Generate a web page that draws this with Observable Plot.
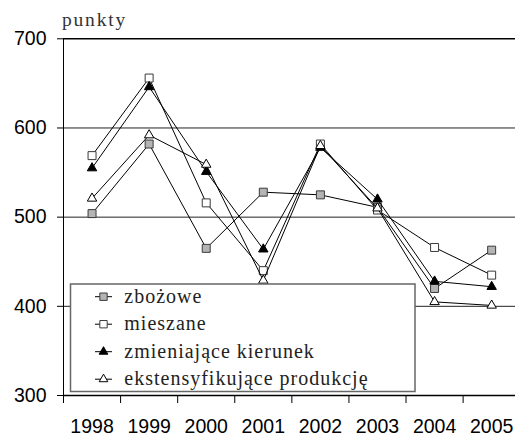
<!DOCTYPE html>
<html><head><meta charset="utf-8">
<script src="https://cdn.jsdelivr.net/npm/d3@7"></script>
<script src="https://cdn.jsdelivr.net/npm/@observablehq/plot@0.6"></script>
<style>
body{margin:0;background:#fff}
#wrap{position:relative;width:515px;height:436px;overflow:hidden}
#overlay{position:absolute;left:0;top:0;pointer-events:none}
.serif{font-family:"Liberation Serif","Times New Roman",Times,serif}
#wrap svg text{font-family:"Liberation Sans",Arial,sans-serif}
#wrap svg text.serif{font-family:"Liberation Serif","Times New Roman",Times,serif}
</style>
</head><body>
<div id="wrap"></div>
<script>
const years = [1998, 1999, 2000, 2001, 2002, 2003, 2004, 2005];
const seriesNames = ["zbożowe", "mieszane", "zmieniające kierunek", "ekstensyfikujące produkcję"];
const zbozowe = [504, 582, 465, 528, 525, 511, 420, 463];
const mieszane = [569, 656, 516, 440, 582, 508, 466, 435];
const zmieniajace = [555, 646, 551, 464, 578, 520, 428, 422];
const ekstensyfikujace = [521, 592, 559, 429, 580, 510, 405, 401];
const yTicks = [300, 400, 500, 600, 700];
const gridValues = [400, 500, 600];
const yLabel = "punkty";

const seriesValues = [zbozowe, mieszane, zmieniajace, ekstensyfikujace];
const seriesStyles = [
  {symbol: "square", fill: "#b4b4b4", stroke: "#3a3a3a", r: 4.5},
  {symbol: "square", fill: "white", stroke: "#3a3a3a", r: 4.5},
  {symbol: "triangle", fill: "black", stroke: "black", r: 3.5},
  {symbol: "triangle", fill: "white", stroke: "black", r: 3.5}
];
const table = seriesNames.flatMap((name, i) =>
  years.map((year, j) => ({name, year, value: seriesValues[i][j]})));

const W = 515, H = 436;
const x0 = years[0] - 0.5, x1 = years[years.length - 1] + 0.5;
const fmt = d => String(d);

const seriesMarks = seriesNames.flatMap((name, i) => {
  const rows = table.filter(d => d.name === name);
  const s = seriesStyles[i];
  return [
    Plot.line(rows, {x: "year", y: "value", stroke: "black", strokeWidth: 1}),
    Plot.dot(rows, {x: "year", y: "value", symbol: () => s.symbol, fill: s.fill, stroke: s.stroke, strokeWidth: 1, r: s.r})
  ];
});

const chart = Plot.plot({
  width: W,
  height: H,
  marginTop: 38.3,
  marginBottom: 41,
  marginLeft: 63,
  marginRight: 0,
  style: {fontFamily: '"Liberation Sans", Arial, sans-serif', fontSize: "19.5px", color: "black", background: "white"},
  x: {type: "linear", domain: [x0, x1], range: [63, 519.7]},
  y: {type: "linear", domain: [yTicks[0], yTicks[yTicks.length - 1]], range: [395, 38.3]},
  symbol: {type: "identity"},
  marks: [
    Plot.ruleY(gridValues, {stroke: "#222", strokeWidth: 1}),
    Plot.ruleY([yTicks[yTicks.length - 1]], {stroke: "black", strokeWidth: 1.5}),
    ...seriesMarks,
    Plot.ruleY([yTicks[0]], {stroke: "black", strokeWidth: 1.5}),
    Plot.ruleX([x0], {stroke: "black", strokeWidth: 1}),
    Plot.axisY({ticks: yTicks, tickSize: 6, tickPadding: 11, tickFormat: fmt, label: null, fill: "black"}),
    Plot.axisX({ticks: years.map(y => y - 0.5), tickSize: 8, tickFormat: () => "", label: null}),
    Plot.axisX({ticks: years, tickSize: 0, tickPadding: 24, tickFormat: fmt, label: null, fill: "black"})
  ]
});

const wrap = document.getElementById("wrap");
wrap.appendChild(chart);

// overlay: axis title and legend
const ov = d3.select(wrap).append("svg").attr("id", "overlay").attr("width", W).attr("height", H);
ov.append("text").attr("class", "serif").attr("x", 62).attr("y", 26)
  .style("font-size", "19.5px").style("letter-spacing", "1.8px").attr("fill", "#333").text(yLabel);

const lg = ov.append("g");
lg.append("rect").attr("x", 70.5).attr("y", 284).attr("width", 344.5).attr("height", 107.5)
  .attr("fill", "white").attr("stroke", "#666").attr("stroke-width", 1.5);
const rowH = 27.5, firstY = 296.7;
seriesNames.forEach((name, i) => {
  const cy = firstY + i * rowH;
  const s = seriesStyles[i];
  const row = lg.append("g").attr("transform", `translate(0,${cy})`);
  row.append("line").attr("x1", 95).attr("x2", 112).attr("y1", 0).attr("y2", 0).attr("stroke", "black");
  const sym = s.symbol === "square" ? d3.symbolSquare : d3.symbolTriangle;
  row.append("path").attr("transform", "translate(103.5,0)")
    .attr("d", d3.symbol(sym, Math.PI * s.r * s.r * 0.85)())
    .attr("fill", s.fill).attr("stroke", s.stroke);
  row.append("text").attr("class", "serif").attr("x", 124.3).attr("y", 6)
    .style("font-size", "20px").style("letter-spacing", "1px").attr("fill", "#222").text(name);
});
</script>
</body></html>
